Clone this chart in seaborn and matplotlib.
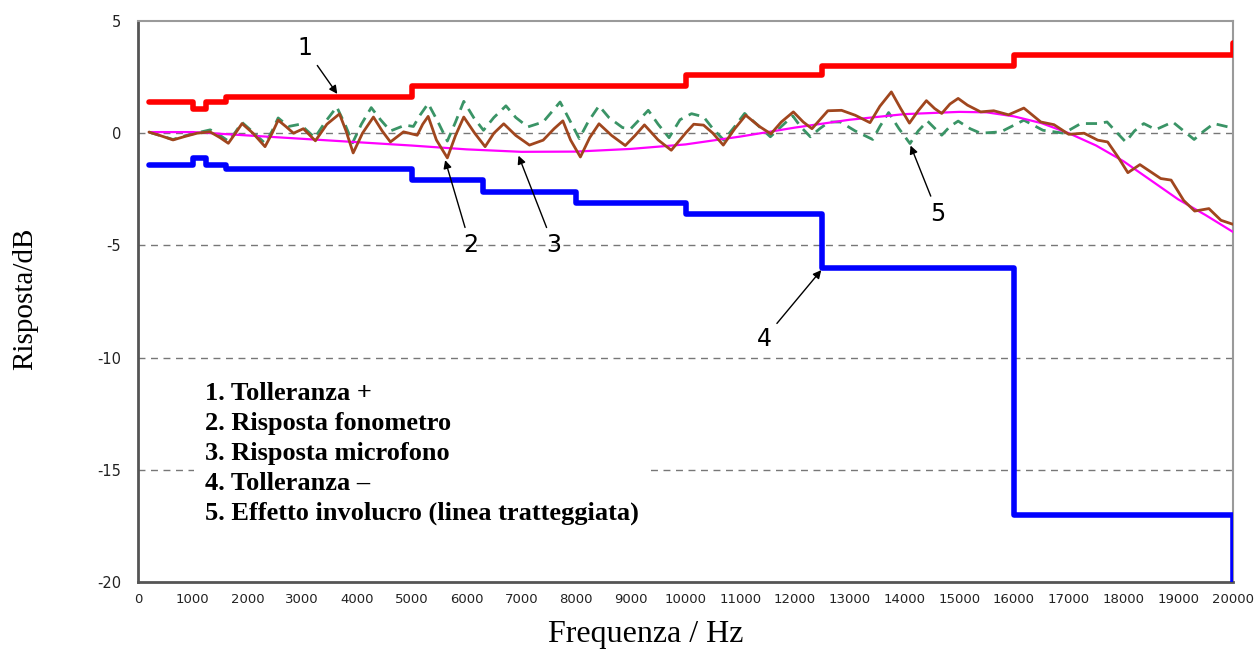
import matplotlib
matplotlib.use('Agg')
import matplotlib.pyplot as plt
import seaborn as sns
import pandas as pd

# tolleranze classe 1 (gradini)
tol_freq = [200, 1000, 1250, 1600, 5000, 6300, 8000, 10000, 12500, 16000, 20000]
tol_plus = [1.4, 1.1, 1.4, 1.6, 2.1, 2.1, 2.1, 2.6, 3.0, 3.5, 4.0]
tol_minus = [-1.4, -1.1, -1.4, -1.6, -2.1, -2.6, -3.1, -3.6, -6.0, -17.0, -20.0]

# risposta microfono
mic_freq = [200, 1000, 2000, 3000, 4000, 5000, 6000, 7000, 8000, 9000, 10000, 11000,
            12000, 13000, 14000, 15000, 15500, 16000, 16500, 17000, 17500, 18000,
            18500, 19000, 19500, 20000]
mic_db = [0.05, 0.05, -0.1, -0.25, -0.4, -0.55, -0.72, -0.83, -0.82, -0.7, -0.5, -0.15,
          0.25, 0.6, 0.85, 0.95, 0.93, 0.75, 0.45, 0.0, -0.55, -1.25,
          -2.1, -2.95, -3.65, -4.4]

# risposta fonometro
slm_freq = [200, 400, 640, 850, 1080, 1316, 1500, 1650, 1780, 1900, 2100, 2320, 2450, 2560,
            2700, 2840, 3020, 3240, 3450, 3680, 3800, 3930, 4100, 4300, 4460, 4610, 4850,
            5100, 5200, 5300, 5450, 5650, 5800, 5950, 6150, 6340, 6500, 6680, 6900, 7150,
            7400, 7600, 7760, 7900, 8080, 8250, 8420, 8650, 8900, 9080, 9250, 9500, 9740,
            10000, 10150, 10330, 10500, 10690, 10900, 11100, 11350, 11560, 11750, 11970,
            12150, 12310, 12600, 12850, 13100, 13370, 13550, 13760, 13930, 14090, 14250,
            14400, 14550, 14680, 14830, 14980, 15150, 15390, 15630, 15900, 16180, 16490,
            16730, 17000, 17280, 17530, 17710, 17900, 18080, 18300, 18680, 18870, 19100,
            19300, 19560, 19780, 20000]
slm_db = [0.05, -0.1, -0.3, -0.15, 0.0, 0.06, -0.2, -0.45, 0.0, 0.43, 0.0, -0.6, 0.0, 0.58,
          0.3, 0.0, 0.2, -0.34, 0.4, 0.86, 0.1, -0.88, 0.0, 0.72, 0.1, -0.39, 0.06,
          -0.09, 0.4, 0.75, -0.3, -1.1, -0.1, 0.72, 0.0, -0.6, 0.0, 0.42, -0.1, -0.53,
          -0.31, 0.2, 0.55, -0.3, -1.06, -0.2, 0.42, -0.1, -0.55, -0.1, 0.37, -0.3, -0.76,
          0.0, 0.4, 0.36, 0.0, -0.53, 0.2, 0.8, 0.3, -0.03, 0.5, 0.95,
          0.5, 0.2, 1.0, 1.02, 0.8, 0.47, 1.2, 1.84, 1.1, 0.45, 1.0,
          1.45, 1.1, 0.88, 1.3, 1.55, 1.25, 0.95, 1.0, 0.82, 1.12, 0.5,
          0.38, -0.05, 0.0, -0.31, -0.39, -1.06, -1.76, -1.4, -2.02, -2.09, -3.0,
          -3.47, -3.36, -3.88, -4.06]

# effetto involucro
case_freq = [200, 400, 640, 850, 1050, 1320, 1500, 1650, 1780, 1900, 2100, 2320, 2450, 2560,
             2750, 2960, 3230, 3420, 3630, 3780, 3920, 4080, 4260, 4430, 4610, 4880, 5030,
             5150, 5300, 5480, 5650, 5800, 5950, 6130, 6310, 6500, 6720, 6900, 7120, 7400,
             7710, 7880, 8060, 8220, 8420, 8600, 8850, 9000, 9320, 9500, 9700, 9900, 10110,
             10330, 10500, 10700, 10900, 11080, 11300, 11550, 11750, 11960, 12100, 12280,
             12450, 12620, 12830, 13100, 13420, 13550, 13710, 13900, 14100, 14250, 14420,
             14560, 14680, 14830, 14980, 15200, 15390, 15760, 16180, 16530, 16910, 17220,
             17530, 17700, 17850, 18040, 18200, 18370, 18590, 18900, 19100, 19290, 19470,
             19650, 19910, 20000]
case_db = [0.05, -0.1, -0.28, -0.12, 0.0, 0.15, -0.1, -0.35, 0.05, 0.48, 0.05, -0.45, 0.1, 0.68,
           0.3, 0.4, -0.2, 0.5, 1.17, 0.4, -0.43, 0.4, 1.14, 0.6, 0.1, 0.36, 0.3,
           0.8, 1.32, 0.5, -0.35, 0.5, 1.42, 0.7, 0.13, 0.7, 1.22, 0.7, 0.28, 0.5,
           1.39, 0.6, -0.24, 0.5, 1.22, 0.7, 0.25, 0.2, 1.02, 0.4, -0.2, 0.6, 0.87,
           0.73, 0.2, -0.31, 0.3, 0.88, 0.4, -0.16, 0.3, 0.77, 0.3, -0.16,
           0.2, 0.5, 0.5, 0.1, -0.28, 0.3, 0.92, 0.2, -0.46, 0.1, 0.54,
           0.2, -0.09, 0.3, 0.54, 0.2, 0.0, 0.06, 0.58, 0.13, 0.0, 0.43,
           0.43, 0.5, 0.1, -0.39, 0.1, 0.43, 0.16, 0.5, 0.1, -0.28, 0.1,
           0.43, 0.28, 0.36]

legenda = ['1. Tolleranza +', '2. Risposta fonometro', '3. Risposta microfono',
           '4. Tolleranza \u2013', '5. Effetto involucro (linea tratteggiata)']

sns.set_style('white')
plt.rcParams['font.family'] = ['DejaVu Sans']
plt.rcParams['axes.unicode_minus'] = False
plt.rcParams['text.color'] = 'black'
plt.rcParams['axes.labelcolor'] = 'black'

fig = plt.figure(figsize=(12.6, 6.55), dpi=100)
ax = fig.add_axes([138 / 1260, 1 - 582 / 655, (1233 - 138) / 1260, (582 - 21) / 655])

tol = pd.DataFrame({'f': tol_freq, 'plus': tol_plus, 'minus': tol_minus})
sns.lineplot(data=tol, x='f', y='plus', ax=ax, color='#ff0000', lw=4,
             drawstyle='steps-post', estimator=None, zorder=5)
sns.lineplot(data=tol, x='f', y='minus', ax=ax, color='#0000ff', lw=4,
             drawstyle='steps-post', estimator=None, zorder=5)
sns.lineplot(x=case_freq, y=case_db, ax=ax, color='#3a9466', lw=2,
             dashes=False, linestyle=(0, (4, 2.5)), estimator=None, zorder=3)
sns.lineplot(x=mic_freq, y=mic_db, ax=ax, color='#ff00ff', lw=1.6,
             estimator=None, zorder=4)
sns.lineplot(x=slm_freq, y=slm_db, ax=ax, color='#a0461e', lw=2,
             estimator=None, zorder=4)

ax.set_xlim(0, 20000)
ax.set_ylim(-20, 5)
ax.set_xticks(range(0, 20001, 1000))
ax.set_xticks(range(0, 20001, 250), minor=True)
ax.set_yticks(range(-20, 6, 5))
ax.set_yticks(range(-20, 6, 1), minor=True)
ax.tick_params(axis='x', which='major', direction='inout', length=8, width=1, colors='#555555',
               labelcolor='#222222', labelsize=9.5, pad=4)
ax.tick_params(axis='x', which='minor', direction='inout', length=4, width=0.8, colors='#555555')
ax.tick_params(axis='y', which='major', direction='out', length=6, width=1, colors='#555555',
               labelcolor='#222222', labelsize=10.5, pad=6)
ax.tick_params(axis='y', which='minor', direction='out', length=4, width=0.8, colors='#555555')

for yv in [0, -5, -10, -15]:
    ax.axhline(yv, color='#777777', lw=1, linestyle=(0, (5, 4)), zorder=1)

for s in ['left', 'bottom']:
    ax.spines[s].set_color('#555555')
    ax.spines[s].set_linewidth(2)
for s in ['top', 'right']:
    ax.spines[s].set_color('#9a9a9a')
    ax.spines[s].set_linewidth(1.5)

ax.set_xlabel('Frequenza / Hz', family='Liberation Serif', fontsize=23)
ax.xaxis.set_label_coords((646 - 138) / 1095, -(620 - 582) / 561)
ax.set_ylabel('Risposta/dB', family='Liberation Serif', fontsize=21)
ax.yaxis.set_label_coords(-(138 - 38) / 1095, 0.505)

ax.text(1220, -11.1, '\n'.join(legenda), family='Liberation Serif', fontweight='bold',
        fontsize=19, va='top', ha='left', linespacing=1.38, zorder=6,
        bbox=dict(facecolor='white', edgecolor='none', pad=8))

arrow = dict(arrowstyle='-|>', color='black', lw=1, mutation_scale=12, shrinkA=2, shrinkB=0)
num_font = dict(fontsize=17, ha='center', va='center', family='DejaVu Sans', zorder=7)
ax.annotate('1', xy=(3640, 1.75), xytext=(3050, 3.8), arrowprops=arrow, **num_font)
ax.annotate('2', xy=(5610, -1.2), xytext=(6070, -5.0), arrowprops=arrow, **num_font)
ax.annotate('3', xy=(6950, -1.0), xytext=(7590, -5.0), arrowprops=arrow, **num_font)
ax.annotate('4', xy=(12480, -6.1), xytext=(11440, -9.15), arrowprops=arrow, **num_font)
ax.annotate('5', xy=(14110, -0.55), xytext=(14610, -3.6), arrowprops=arrow, **num_font)

plt.savefig('out.png', dpi=100)
